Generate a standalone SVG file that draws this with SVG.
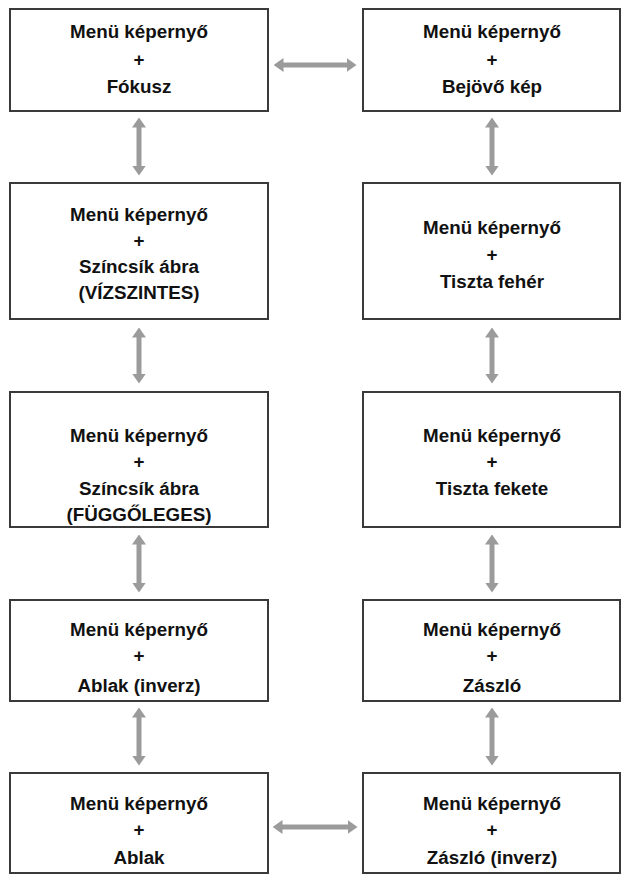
<svg xmlns="http://www.w3.org/2000/svg" width="623" height="879" viewBox="0 0 623 879">
<style>
.box{fill:#fff;stroke:#3a3a3a;stroke-width:2}
.t{font-family:"Liberation Sans",Arial,sans-serif;font-weight:bold;font-size:18.8px;fill:#111;text-anchor:middle}
.a{stroke:#9b9b9b;stroke-width:5;fill:none;marker-start:url(#h);marker-end:url(#h)}
</style>
<defs>
<marker id="h" markerUnits="userSpaceOnUse" markerWidth="10" markerHeight="14" refX="0.5" refY="7" orient="auto-start-reverse" viewBox="0 0 10 14">
<path d="M0,0 L10,7 L0,14 z" fill="#9b9b9b"/>
</marker>
</defs>
<rect width="623" height="879" fill="#fff"/>
<g id="connectors">
<line class="a" x1="283" y1="65" x2="347" y2="65"/>
<line class="a" x1="282" y1="827" x2="348" y2="827"/>
<line class="a" x1="139" y1="127" x2="139" y2="166"/>
<line class="a" x1="139" y1="337" x2="139" y2="374"/>
<line class="a" x1="139" y1="544" x2="139" y2="583"/>
<line class="a" x1="139" y1="717" x2="139" y2="756"/>
<line class="a" x1="492" y1="127" x2="492" y2="166"/>
<line class="a" x1="492" y1="337" x2="492" y2="374"/>
<line class="a" x1="492" y1="544" x2="492" y2="583"/>
<line class="a" x1="492" y1="717" x2="492" y2="756"/>
</g>
<g id="n1">
<rect class="box" x="10" y="9" width="258" height="102"/>
<text class="t" x="139" y="38">Menü képernyő</text>
<text class="t" x="139" y="66">+</text>
<text class="t" x="139" y="93">Fókusz</text>
</g>
<g id="n2">
<rect class="box" x="363" y="9" width="257" height="102"/>
<text class="t" x="492" y="38">Menü képernyő</text>
<text class="t" x="492" y="66">+</text>
<text class="t" x="492" y="93">Bejövő kép</text>
</g>
<g id="n3">
<rect class="box" x="10" y="183" width="258" height="136"/>
<text class="t" x="139" y="221">Menü képernyő</text>
<text class="t" x="139" y="247">+</text>
<text class="t" x="139" y="273">Színcsík ábra</text>
<text class="t" x="139" y="299">(VÍZSZINTES)</text>
</g>
<g id="n4">
<rect class="box" x="363" y="183" width="257" height="136"/>
<text class="t" x="492" y="234">Menü képernyő</text>
<text class="t" x="492" y="261">+</text>
<text class="t" x="492" y="288">Tiszta fehér</text>
</g>
<g id="n5">
<rect class="box" x="10" y="392" width="258" height="135"/>
<text class="t" x="139" y="442">Menü képernyő</text>
<text class="t" x="139" y="468">+</text>
<text class="t" x="139" y="495">Színcsík ábra</text>
<text class="t" x="139" y="521">(FÜGGŐLEGES)</text>
</g>
<g id="n6">
<rect class="box" x="363" y="392" width="257" height="135"/>
<text class="t" x="492" y="442">Menü képernyő</text>
<text class="t" x="492" y="468">+</text>
<text class="t" x="492" y="495">Tiszta fekete</text>
</g>
<g id="n7">
<rect class="box" x="10" y="600" width="258" height="101"/>
<text class="t" x="139" y="636">Menü képernyő</text>
<text class="t" x="139" y="662">+</text>
<text class="t" x="139" y="692">Ablak (inverz)</text>
</g>
<g id="n8">
<rect class="box" x="363" y="600" width="257" height="101"/>
<text class="t" x="492" y="636">Menü képernyő</text>
<text class="t" x="492" y="662">+</text>
<text class="t" x="492" y="692">Zászló</text>
</g>
<g id="n9">
<rect class="box" x="10" y="773" width="258" height="100"/>
<text class="t" x="139" y="810">Menü képernyő</text>
<text class="t" x="139" y="836">+</text>
<text class="t" x="139" y="864">Ablak</text>
</g>
<g id="n10">
<rect class="box" x="363" y="773" width="257" height="100"/>
<text class="t" x="492" y="810">Menü képernyő</text>
<text class="t" x="492" y="836">+</text>
<text class="t" x="492" y="864">Zászló (inverz)</text>
</g>
</svg>
